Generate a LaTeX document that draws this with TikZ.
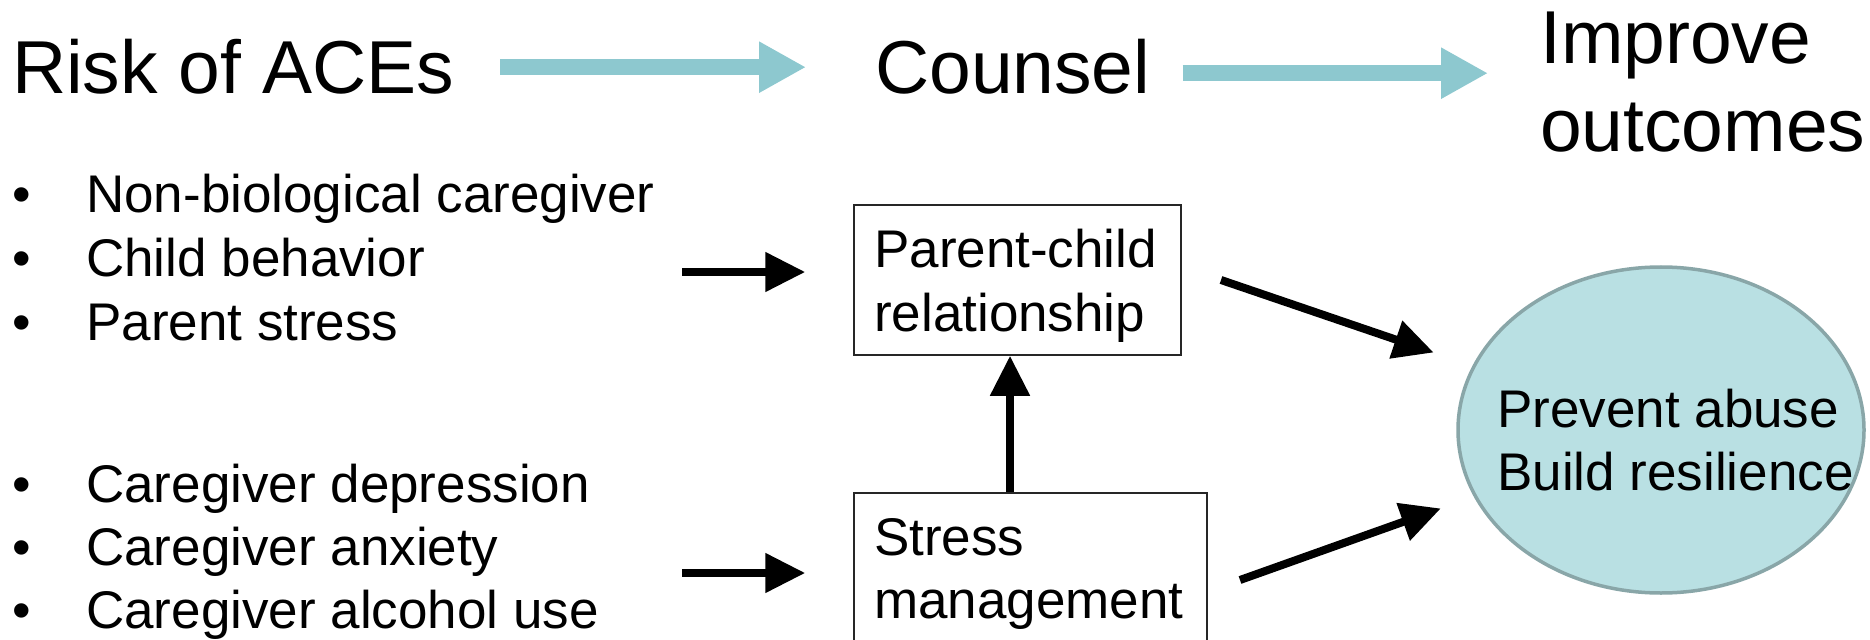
\documentclass[tikz,border=0pt]{standalone}
\usepackage{fontspec}
\setmainfont{Liberation Sans}
\usetikzlibrary{arrows.meta,shapes.geometric,calc}
\definecolor{arrowcyan}{RGB}{141,200,207}
\definecolor{ellfill}{RGB}{185,224,227}
\definecolor{elldraw}{RGB}{137,166,168}
\begin{document}
\begin{tikzpicture}[x=1bp,y=-1bp,
  big/.style={inner sep=0pt, anchor=base west, font=\fontsize{75bp}{90bp}\selectfont},
  txt/.style={inner sep=0pt, anchor=base west, font=\fontsize{53bp}{63bp}\selectfont},
  bul/.style={txt},
  boxst/.style={draw=black!85, line width=1.5bp, inner sep=0pt},
  cyanarrow/.style={arrowcyan, line width=16bp, -{Triangle[length=47bp,width=48bp]}},
  blk/.style={black, line width=8bp, -{Triangle[length=40bp,width=38bp]}}]
\useasboundingbox (0,0) rectangle (1870,640);
% title row
\node[big] (risk) at (12,94) {Risk of ACEs};
\node[big] (counsel) at (875,94) {Counsel};
\node[big] (imp1) at (1540,64) {Improve};
\node[big] (imp2) at (1540,152) {outcomes};
\draw[cyanarrow, shorten <=46bp, shorten >=69bp] (risk.east) -- (counsel.west);
\draw[cyanarrow, shorten <=32bp, shorten >=52bp] ([yshift=-6bp]counsel.east) -- ([yshift=-6bp]counsel.east -| imp1.west);
% bullet lists
\node[bul] (l1) at (12,213) {\makebox[74bp][l]{•}Non-biological caregiver};
\node[bul] (l2) at (12,277) {\makebox[74bp][l]{•}Child behavior};
\node[bul] (l3) at (12,340) {\makebox[74bp][l]{•}Parent stress};
\node[bul] (l4) at (12,502) {\makebox[74bp][l]{•}Caregiver depression};
\node[bul] (l5) at (12,565) {\makebox[74bp][l]{•}Caregiver anxiety};
\node[bul] (l6) at (12,628) {\makebox[74bp][l]{•}Caregiver alcohol use};
% boxes
\node[boxst, minimum width=327bp, minimum height=150bp] (box1) at (1017.5,280) {};
\node[txt] (t1a) at (874,268) {Parent-child};
\node[txt] (t1b) at (874,331) {relationship};
\node[boxst, minimum width=353bp, minimum height=190bp] (box2) at (1030.5,588) {};
\node[txt] (t2a) at (874,555) {Stress};
\node[txt] (t2b) at (874,618) {management};
% ellipse
\node[ellipse, draw=elldraw, fill=ellfill, line width=3.5bp, inner sep=0pt,
      minimum width=406bp, minimum height=326bp] (ell) at (1661,430) {};
\node[txt] (e1) at (1497,427) {Prevent abuse};
\node[txt] (e2) at (1497,490) {Build resilience};
% black arrows
\coordinate (aS) at (682,272);
\coordinate (bS) at (682,573);
\draw[blk, shorten >=48bp] (aS) -- (aS -| box1.west);
\draw[blk, shorten >=48bp] (bS) -- (bS -| box2.west);
\draw[blk] ([xshift=-20.5bp]box2.north) -- ([xshift=-20.5bp]box2.north |- box1.south);
\coordinate (cS) at (1221,280);
\coordinate (dS) at (1240,580);
\draw[blk, shorten >=41bp] (cS) -- (ell);
\draw[blk, shorten >=35bp] (dS) -- (ell);
\end{tikzpicture}
\end{document}
